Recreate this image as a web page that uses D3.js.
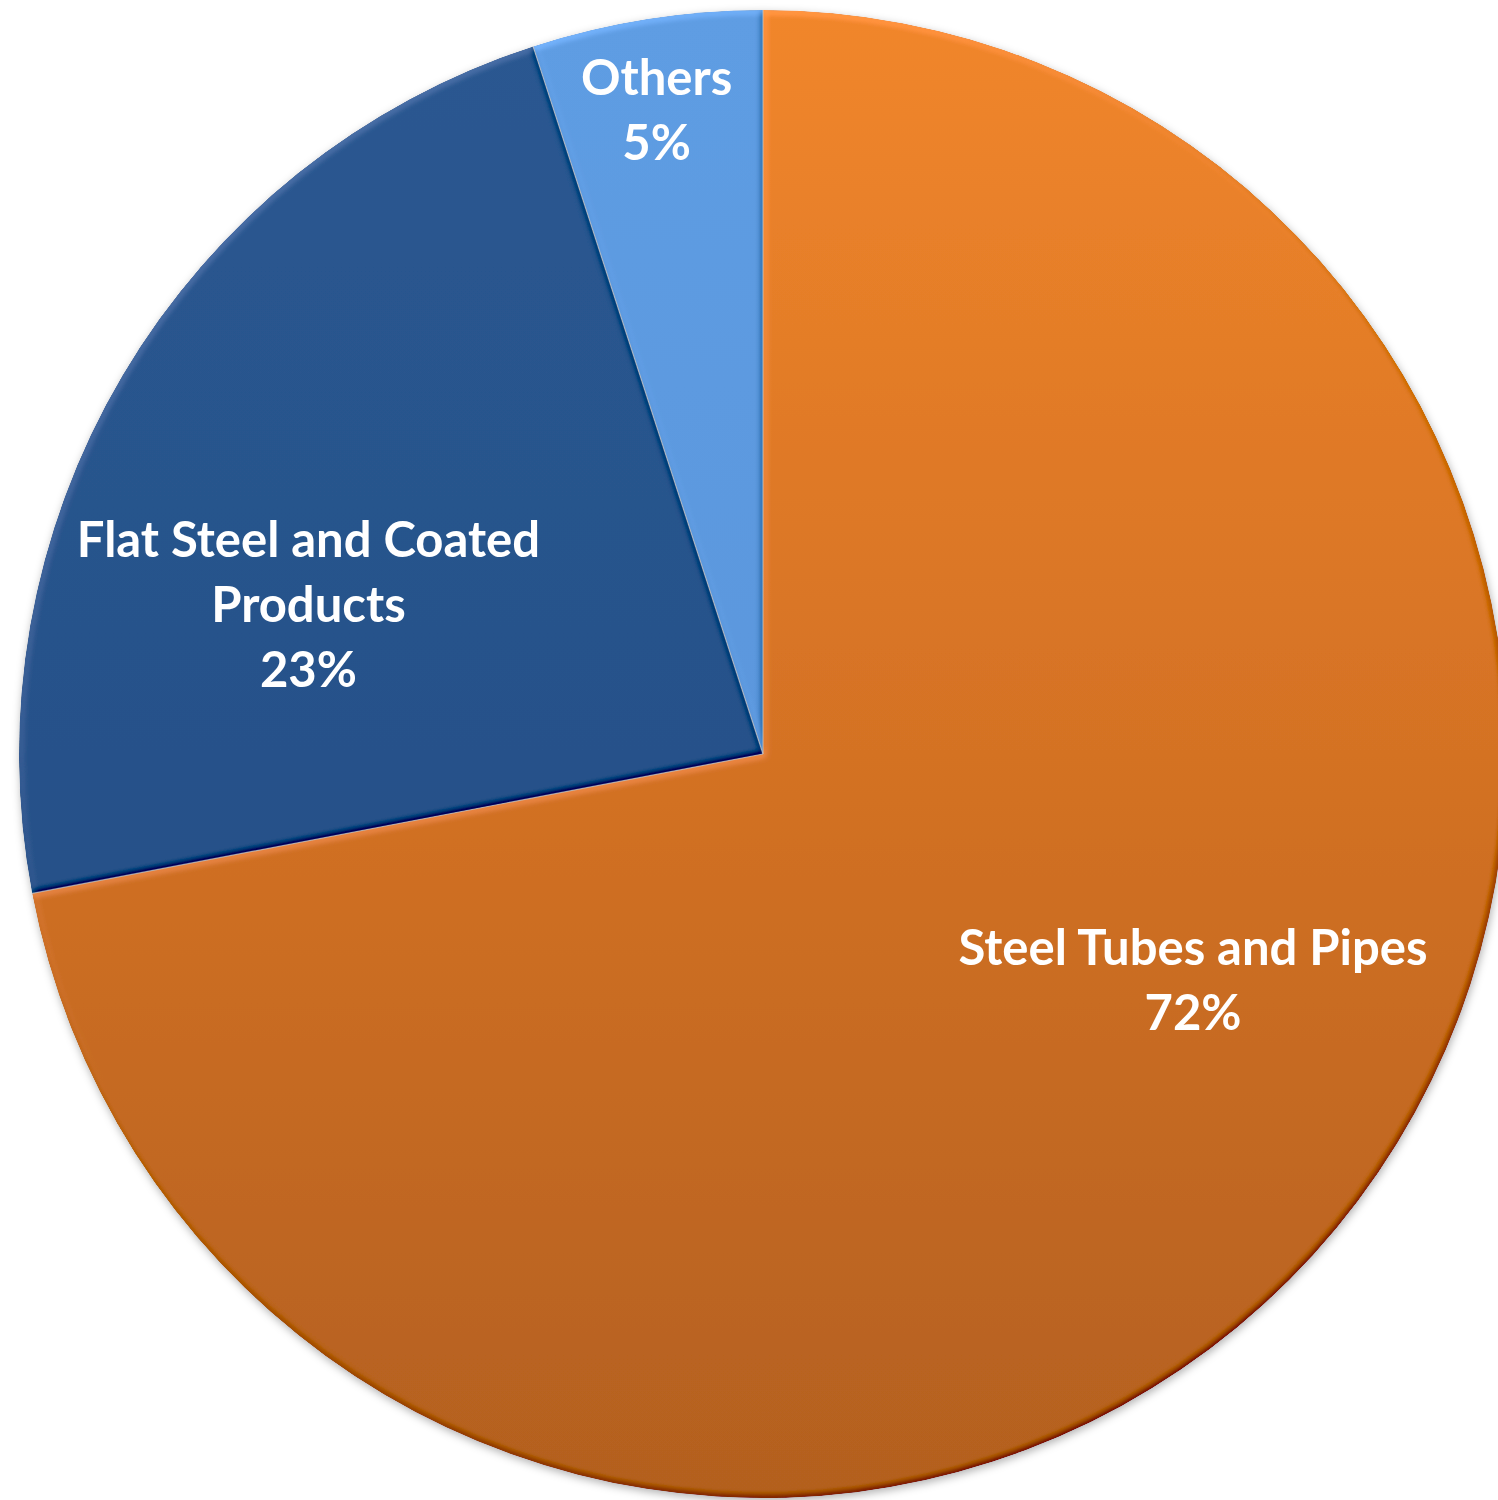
<!DOCTYPE html>
<html>
<head>
<meta charset="utf-8">
<script src="https://cdn.jsdelivr.net/npm/d3@7"></script>
<style>
  html, body { margin: 0; padding: 0; background: #ffffff; }
  svg { display: block; }
  .lbl { font-family: Lato, "Open Sans", sans-serif; font-weight: 700; fill: #ffffff; }
</style>
</head>
<body>
<svg id="chart" width="1498" height="1500"></svg>
<script>
// Product mix shares (%), clockwise from 12 o'clock
const categories = ["Steel Tubes and Pipes", "Flat Steel and Coated Products", "Others"];
const shares = [72, 23, 5];
const percentLabels = ["72%", "23%", "5%"];
// label text broken into lines
const labelLines = [
  ["Steel Tubes and Pipes"],
  ["Flat Steel and Coated", "Products"],
  ["Others"]
];

const cx = 763, cy = 754, r = 744;

const svg = d3.select("#chart");
const defs = svg.append("defs");

// slice colours: top -> bottom vertical gradients (in the pie's own frame)
const fills = [
  ["#f1862b", "#d47224", "#b3601f"],
  ["#2a5891", "#27528a", "#244e84"],
  ["#5f9de3", "#5b97dd", "#5792d8"]
];
fills.forEach((stops, i) => {
  const g = defs.append("linearGradient")
    .attr("id", "grad" + i)
    .attr("gradientUnits", "userSpaceOnUse")
    .attr("x1", 0).attr("y1", -r).attr("x2", 0).attr("y2", r);
  stops.forEach((c, j) => g.append("stop")
    .attr("offset", j / (stops.length - 1)).attr("stop-color", c));
});

// soft bevel on each slice's edges, lit from the upper left;
// shading is multiplicative so the rims keep the slice's hue
const bevel = defs.append("filter").attr("id", "bevel")
  .attr("x", "-5%").attr("y", "-5%").attr("width", "110%").attr("height", "110%");
bevel.append("feGaussianBlur").attr("in", "SourceAlpha").attr("stdDeviation", 3).attr("result", "blur");
const light = bevel.append("feDiffuseLighting").attr("in", "blur")
  .attr("surfaceScale", 3).attr("diffuseConstant", 1)
  .attr("lighting-color", "#ffffff").attr("result", "lit");
light.append("feDistantLight").attr("azimuth", 235).attr("elevation", 45);
bevel.append("feComposite").attr("in", "SourceGraphic").attr("in2", "lit")
  .attr("operator", "arithmetic").attr("k1", 0.8).attr("k2", 0.434).attr("k3", 0.12).attr("k4", -0.085)
  .attr("result", "shaded");
bevel.append("feComposite").attr("in", "shaded").attr("in2", "SourceAlpha").attr("operator", "in");

// drop shadow under the whole pie
const shadow = defs.append("filter").attr("id", "shadow")
  .attr("x", "-5%").attr("y", "-5%").attr("width", "110%").attr("height", "110%");
shadow.append("feDropShadow").attr("dx", 1).attr("dy", 3).attr("stdDeviation", 4)
  .attr("flood-color", "#000").attr("flood-opacity", 0.3);

const pie = d3.pie().sort(null).value(d => d)(shares);
const arc = d3.arc().innerRadius(0).outerRadius(r);

const g = svg.append("g").attr("transform", `translate(${cx},${cy})`);
const shadowLayer = g.append("g").attr("filter", "url(#shadow)");

shadowLayer.selectAll("path.slice")
  .data(pie)
  .join("path")
  .attr("class", "slice")
  .attr("d", arc)
  .attr("fill", (d, i) => `url(#grad${i})`)
  .attr("filter", "url(#bevel)");

// thin seams between slices
g.selectAll("line.seam")
  .data(pie)
  .join("line")
  .attr("class", "seam")
  .attr("x1", 0).attr("y1", 0)
  .attr("x2", d => r * Math.sin(d.startAngle))
  .attr("y2", d => -r * Math.cos(d.startAngle))
  .attr("stroke", "#c4c4c4").attr("stroke-width", 1.2).attr("stroke-opacity", 0.7);

// label anchors, as fractions of the radius from the centre (first baseline)
const labelAnchor = [
  { fx: 0.578, fy: 0.284 },
  { fx: -0.611, fy: -0.265 },
  { fx: -0.143, fy: -0.886 }
];
const fontSize = 49, lineGap = 65;

const labels = g.selectAll("text.lbl")
  .data(pie)
  .join("text")
  .attr("class", "lbl")
  .attr("text-anchor", "middle")
  .attr("font-size", fontSize)
  .attr("x", (d, i) => labelAnchor[i].fx * r)
  .attr("y", (d, i) => labelAnchor[i].fy * r);

labels.each(function(d, i) {
  const t = d3.select(this);
  const lines = labelLines[i].concat([percentLabels[i]]);
  lines.forEach((s, j) => {
    t.append("tspan")
      .attr("x", labelAnchor[i].fx * r)
      .attr("dy", j === 0 ? 0 : lineGap)
      .text(s);
  });
});
</script>
</body>
</html>
